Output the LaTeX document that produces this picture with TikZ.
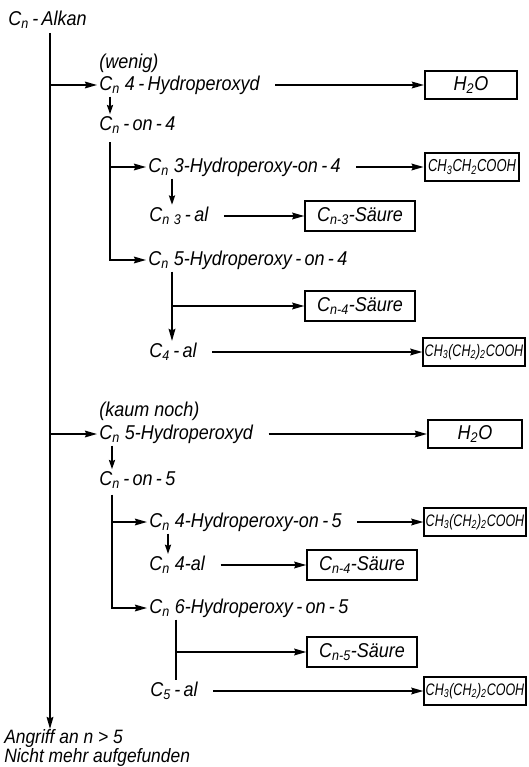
\documentclass[tikz,border=0pt]{standalone}
\usepackage{fontspec}
\setmainfont{Liberation Sans}[FakeStretch=0.9]
\newfontfamily\narrowfont{Liberation Sans}[FakeStretch=0.75]
\usetikzlibrary{arrows.meta}
\newcommand{\Cn}{C\textsubscript{n}}

\begin{document}
\begin{tikzpicture}[x=0.75pt,y=-0.75pt,
 txt/.style={anchor=west,inner sep=1.5pt,font=\fontsize{15}{16}\selectfont\itshape},
 prod/.style={draw,line width=1.6pt,inner sep=1pt,minimum height=21pt,font=\fontsize{15}{16}\selectfont\itshape},
 water/.style={prod,minimum width=69pt},
 acid/.style={prod,minimum width=82pt,minimum height=23pt},
 chain/.style={prod,minimum width=70pt,font=\narrowfont\fontsize{12.5}{13}\selectfont\itshape},
 arr/.style={-{Stealth[length=9pt,width=5pt,inset=1pt]},line width=1.3pt},
 sarr/.style={arr,-{Stealth[length=7pt,width=4.5pt,inset=1pt]}},
 fromtxt/.style={arr,shorten <=10pt}]
\useasboundingbox (0,0) rectangle (528,767);
\coordinate (m0) at (50,33); \coordinate (c1) at (110,0); \coordinate (c2) at (172,0);
\coordinate (c3) at (112,0); \coordinate (c4) at (168,0); \coordinate (c5) at (176,0);
\node[txt] (alkan) at (6,20) {\Cn\,-\,Alkan};
\node[txt,anchor=north west,align=left,inner sep=0pt,font=\fontsize{14.5}{12.2}\selectfont\itshape] (ang) at (4,729) {Angriff an n > 5\\Nicht mehr aufgefunden};
\draw[arr] (m0) -- (m0 |- ang.north);
\node[txt] (wenig) at (97,63) {(wenig)};
\node[txt] (hpa) at (97,85) {\Cn\ 4\,-\,Hydroperoxyd};
\node[water] (h2oA) at (471,85) {H\textsubscript{2}O};
\node[txt] (onA) at (97,125) {\Cn\,-\,on\,-\,4};
\node[txt] (hp3A) at (146,167) {\Cn\ 3-Hydroperoxy-on\,-\,4};
\node[chain,minimum width=71pt,font=\narrowfont\fontsize{13}{14}\selectfont\itshape] (caA) at (472,167) {CH\textsubscript{3}CH\textsubscript{2}COOH};
\node[txt] (alA) at (147,216) {C\textsubscript{n\,\,3}\,-\,al};
\node[acid] (sA) at (360,216) {C\textsubscript{n-3}-Säure};
\node[txt] (hp5A) at (146,260) {\Cn\ 5-Hydroperoxy\,-\,on\,-\,4};
\node[acid] (sB) at (360,306) {C\textsubscript{n-4}-Säure};
\node[txt] (alB) at (147,352) {C\textsubscript{4}\,-\,al};
\node[chain] (cbA) at (474,352) {CH\textsubscript{3}(CH\textsubscript{2})\textsubscript{2}COOH};
\draw[arr] (hpa.west -| m0) -- (hpa.west); \draw[fromtxt] (hpa.east) -- (h2oA.west);
\draw[sarr] (hpa.south -| c1) -- (onA.north -| c1);
\draw[arr,shorten <=5pt] (onA.south -| c1) |- (hp5A.west); \draw[arr] (hp3A.west -| c1) -- (hp3A.west);
\draw[fromtxt] (hp3A.east) -- (caA.west); \draw[sarr] (hp3A.south -| c2) -- (alA.north -| c2);
\draw[fromtxt] (alA.east) -- (sA.west);
\draw[arr] (hp5A.south -| c2) -- (alB.north -| c2); \draw[arr] (sB.west -| c2) -- (sB.west);
\draw[fromtxt] (alB.east) -- (cbA.west);
\node[txt] (kaum) at (97,411) {(kaum noch)};
\node[txt] (hpb) at (97,434) {\Cn\ 5-Hydroperoxyd};
\node[water,minimum width=70.5pt] (h2oB) at (475,434) {H\textsubscript{2}O};
\node[txt] (onB) at (97,480) {\Cn\,-\,on\,-\,5};
\node[txt] (hp4B) at (147,522) {\Cn\ 4-Hydroperoxy-on\,-\,5};
\node[chain] (cbB) at (475,522) {CH\textsubscript{3}(CH\textsubscript{2})\textsubscript{2}COOH};
\node[txt] (alC) at (147,565) {\Cn\ 4-al};
\node[acid] (sC) at (362,565) {C\textsubscript{n-4}-Säure};
\node[txt] (hp6B) at (147,608) {\Cn\ 6-Hydroperoxy\,-\,on\,-\,5};
\node[acid] (sD) at (362,652) {C\textsubscript{n-5}-Säure};
\node[txt] (alD) at (148,691) {C\textsubscript{5}\,-\,al};
\node[chain] (cbC) at (475,691) {CH\textsubscript{3}(CH\textsubscript{2})\textsubscript{2}COOH};
\draw[arr] (hpb.west -| m0) -- (hpb.west); \draw[fromtxt] (hpb.east) -- (h2oB.west);
\draw[sarr] (hpb.south -| c3) -- (onB.north -| c3);
\draw[arr,shorten <=3pt] (onB.south -| c3) |- (hp6B.west); \draw[arr] (hp4B.west -| c3) -- (hp4B.west);
\draw[fromtxt] (hp4B.east) -- (cbB.west); \draw[sarr] (hp4B.south -| c4) -- (alC.north -| c4);
\draw[fromtxt] (alC.east) -- (sC.west);
\draw[line width=1.3pt] (hp6B.south -| c5) -- (alD.north -| c5); \draw[arr] (sD.west -| c5) -- (sD.west);
\draw[fromtxt] (alD.east) -- (cbC.west);
\end{tikzpicture}
\end{document}
